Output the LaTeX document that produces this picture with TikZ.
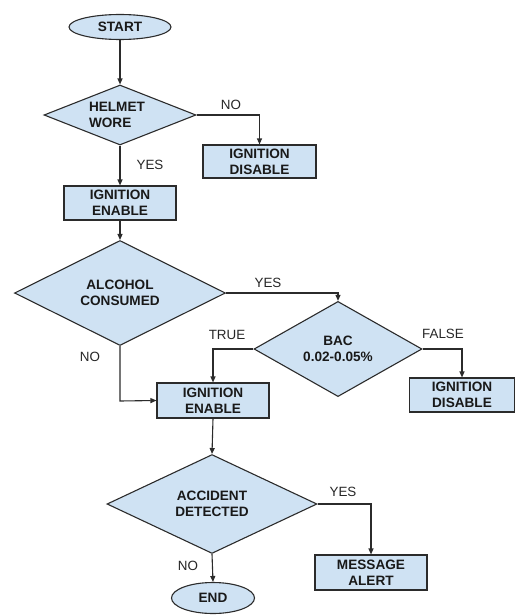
\documentclass[tikz,border=0pt]{standalone}
\usepackage{fontspec}
\setmainfont{Liberation Sans}
\usetikzlibrary{shapes.geometric,arrows.meta}
\definecolor{boxfill}{HTML}{CFE2F3}
\definecolor{edge}{HTML}{2B2B2B}
\tikzset{
  base/.style={draw=edge, line width=1.1pt, fill=boxfill, inner sep=0pt,
    font=\fontsize{13.6}{16}\selectfont\bfseries, text=black!90, align=center},
  term/.style={base, ellipse},
  proc/.style={base, rectangle},
  decide/.style={base, diamond},
  lbl/.style={font=\fontsize{13.4}{16}\selectfont, text=black!85, inner sep=0pt},
  conn/.style={draw=edge, line width=1.1pt, -{Triangle[length=6pt,width=5pt]}}
}
\begin{document}
\begin{tikzpicture}[x=1pt,y=-1pt]
\useasboundingbox (0,0) rectangle (516,615);
% nodes
\node[term, minimum width=102pt, minimum height=25pt] (start) at (120,27) {START};
\node[decide, minimum width=152pt, minimum height=60pt] (helmet) at (120,115) {};
\node[font=\fontsize{13.6}{16}\selectfont\bfseries, text=black!90, align=left, inner sep=0pt] (helmettxt) at (117,115) {HELMET\\WORE};
\node[proc, minimum width=113pt, minimum height=33pt] (dis1) at (259.5,161.5) {IGNITION\\DISABLE};
\node[proc, minimum width=112pt, minimum height=34pt] (en1) at (120,203) {IGNITION\\ENABLE};
\node[decide, minimum width=211pt, minimum height=80pt] (alc) at (120,293) {ALCOHOL\\CONSUMED};
\node[decide, minimum width=168pt, minimum height=67pt] (bac) at (338,349) {BAC\\0.02-0.05\%};
\node[proc, minimum width=112pt, minimum height=35pt] (en2) at (213,400.5) {IGNITION\\ENABLE};
\node[proc, minimum width=105pt, minimum height=34pt] (dis2) at (462,395) {IGNITION\\DISABLE};
\node[decide, minimum width=210pt, minimum height=77pt] (acc) at (212,504) {ACCIDENT\\DETECTED};
\node[proc, minimum width=112pt, minimum height=35pt] (alert) at (371,572.5) {MESSAGE\\ALERT};
\node[term, minimum width=83pt, minimum height=31pt] (end) at (213,598) {END};
% connectors
\draw[conn] (start) -- (helmet);
\draw[conn] (helmet.east) -| (dis1.north);
\draw[conn] (helmet.south) -- (en1.north);
\draw[conn] (en1.south) -- (alc.north);
\draw[conn] (alc.east) -| (bac.north);
\draw[conn] (bac.west) -| (en2.north);
\draw[conn] (bac.east) -| (dis2.north);
\coordinate (alcturn) at (120,401);
\draw[conn] (alc.south) -- (alcturn) -- (en2.west);
\draw[conn] (en2.south) -- (acc.north);
\draw[conn] (acc.east) -| (alert.north);
\draw[conn] (acc.south) -- (end.north);
% labels
\node[lbl] (l1) at (231,105) {NO};
\node[lbl] (l2) at (150,165) {YES};
\node[lbl] (l3) at (268,283) {YES};
\node[lbl] (l4) at (227,335) {TRUE};
\node[lbl] (l5) at (443,334) {FALSE};
\node[lbl] (l6) at (90,357) {NO};
\node[lbl] (l7) at (343,492) {YES};
\node[lbl] (l8) at (188,566) {NO};
\end{tikzpicture}
\end{document}
